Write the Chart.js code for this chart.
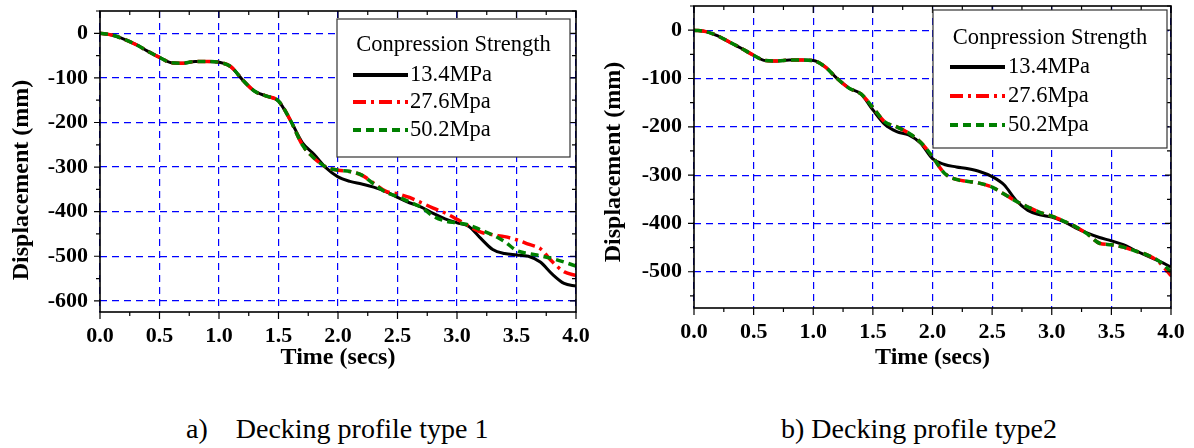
<!DOCTYPE html>
<html>
<head>
<meta charset="utf-8">
<script src="https://cdn.jsdelivr.net/npm/chart.js@4.4.1/dist/chart.umd.min.js"></script>
<style>
html, body { margin: 0; padding: 0; background: #fff; }
body { width: 1194px; height: 448px; position: relative; overflow: hidden; }
canvas { position: absolute; top: 0; }
#chartA { left: 0; }
#chartB { left: 597px; }
.caption { position: absolute; top: 415px; font: 28px/28px 'Liberation Serif', 'Times New Roman', serif; white-space: pre; color: #000; }
</style>
</head>
<body>
<canvas id="chartA" width="597" height="380"></canvas>
<canvas id="chartB" width="597" height="380"></canvas>
<div class="caption" style="left:186px">a)    Decking profile type 1</div>
<div class="caption" style="left:781px">b) Decking profile type2</div>
<script>
// ---- data ----
const timeSecs = [0.0,0.1,0.2,0.3,0.4,0.5,0.6,0.7,0.8,0.9,1.0,1.1,1.2,1.3,1.4,1.5,1.6,1.7,1.8,1.9,2.0,
  2.1,2.2,2.3,2.4,2.5,2.6,2.7,2.8,2.9,3.0,3.1,3.2,3.3,3.4,3.5,3.6,3.7,3.8,3.9,4.0];
const seriesLabels = ['13.4MPa', '27.6Mpa', '50.2Mpa'];
const legendTitle = 'Conpression Strength';
const yTitle = 'Displacement (mm)';

// profile type 1
const type1_134 = [0,-4,-13,-25,-40,-54,-66,-67,-63,-63,-65,-75,-105,-130,-141,-152,-195,-245,-272,-302,-322,
  -332,-338,-345,-355,-368,-380,-390,-404,-416,-425,-433,-460,-485,-494,-497,-500,-513,-540,-561,-567];
const type1_276 = [0,-4,-13,-25,-40,-54,-66,-67,-63,-63,-65,-75,-105,-130,-141,-152,-195,-250,-280,-300,-307,
  -310,-318,-336,-354,-360,-368,-380,-392,-403,-417,-432,-446,-452,-456,-463,-473,-483,-512,-535,-543];
const type1_502 = [0,-4,-13,-25,-40,-54,-66,-67,-63,-63,-65,-75,-105,-130,-141,-152,-195,-250,-280,-300,-307,
  -310,-318,-338,-356,-366,-378,-390,-410,-421,-425,-430,-441,-452,-467,-487,-494,-499,-505,-513,-522];

// profile type 2
const type2_134 = [0,-3,-12,-25,-38,-52,-63,-64,-62,-62,-63,-76,-100,-120,-132,-165,-195,-210,-217,-234,-266,
  -278,-283,-287,-293,-303,-320,-352,-373,-382,-387,-396,-409,-420,-429,-436,-444,-456,-467,-478,-490];
const type2_276 = [0,-3,-12,-25,-38,-52,-63,-64,-62,-62,-63,-76,-100,-120,-132,-160,-190,-200,-213,-232,-262,
  -296,-309,-313,-317,-325,-339,-354,-366,-377,-385,-395,-407,-422,-441,-444,-449,-457,-465,-480,-508];
const type2_502 = [0,-3,-12,-25,-38,-52,-63,-64,-62,-62,-63,-76,-100,-120,-132,-160,-190,-200,-213,-232,-262,
  -296,-309,-313,-317,-325,-339,-354,-366,-377,-385,-395,-407,-422,-441,-444,-449,-457,-465,-478,-500];

const xTicks = [0, 0.5, 1.0, 1.5, 2.0, 2.5, 3.0, 3.5, 4.0];
const yTicksA = [0, -100, -200, -300, -400, -500, -600];
const yTicksB = [0, -100, -200, -300, -400, -500];

Chart.defaults.font.family = "'Liberation Serif', 'Times New Roman', serif";
Chart.defaults.color = '#000';

const gridBlue = '#0000ff';
const lineStyles = [
  { color: '#000000', dash: [], width: 3, order: 3 },
  { color: '#ff0000', dash: [13, 5, 3, 5], width: 3.5, order: 2 },
  { color: '#008000', dash: [8, 5], width: 3.5, order: 1 },
];

// frame, mirrored ticks, y title and inset legend
const frameTicks = {
  id: 'frameTicks',
  afterDraw(chart, args, opts) {
    const { ctx, chartArea: a, scales: { x, y } } = chart;
    ctx.save();
    ctx.strokeStyle = '#000';
    ctx.lineWidth = 1.2;
    ctx.setLineDash([]);
    ctx.beginPath();
    for (let i = 0; i <= 16; i++) {
      const v = i * 0.25;
      const px = x.getPixelForValue(v);
      const len = i % 2 === 0 ? 7 : 4;
      ctx.moveTo(px, a.bottom); ctx.lineTo(px, a.bottom + len);
      ctx.moveTo(px, a.top); ctx.lineTo(px, a.top + len);
    }
    for (let v = Math.ceil(y.min / 50) * 50; v <= y.max; v += 50) {
      const py = y.getPixelForValue(v);
      const len = v % 100 === 0 ? 6 : 4;
      ctx.moveTo(a.left - len, py); ctx.lineTo(a.left, py);
      ctx.moveTo(a.right - len, py); ctx.lineTo(a.right, py);
    }
    ctx.stroke();
    ctx.lineWidth = 1.6;
    ctx.strokeRect(a.left, a.top, a.right - a.left, a.bottom - a.top);

    // y axis title, placed like the original (not always centred)
    ctx.save();
    ctx.translate(opts.titleX, opts.titleY);
    ctx.rotate(-Math.PI / 2);
    ctx.fillStyle = '#000';
    ctx.font = "bold 24px 'Liberation Serif', 'Times New Roman', serif";
    ctx.textAlign = 'center';
    ctx.textBaseline = 'middle';
    ctx.fillText(yTitle, 0, 0);
    ctx.restore();

    // legend box
    const bx = a.right + opts.dx, by = a.top + opts.dy;
    ctx.fillStyle = '#fff';
    ctx.fillRect(bx, by, opts.w, opts.h);
    ctx.strokeStyle = '#333';
    ctx.lineWidth = 1.2;
    ctx.strokeRect(bx, by, opts.w, opts.h);
    ctx.fillStyle = '#000';
    ctx.font = "22.5px 'Liberation Serif', 'Times New Roman', serif";
    ctx.textAlign = 'center';
    ctx.textBaseline = 'middle';
    ctx.fillText(legendTitle, bx + opts.w / 2, by + opts.titleDy);
    ctx.textAlign = 'left';
    chart.data.datasets.forEach((ds, i) => {
      const ry = by + opts.rows[i];
      ctx.strokeStyle = ds.borderColor;
      ctx.lineWidth = 4;
      ctx.setLineDash(ds.borderDash);
      ctx.beginPath();
      ctx.moveTo(bx + opts.sx0, ry);
      ctx.lineTo(bx + opts.sx1, ry);
      ctx.stroke();
      ctx.fillText(ds.label, bx + opts.tx, ry);
    });
    ctx.restore();
  }
};

function makeChart(canvasId, seriesList, yTicks, yMin, cfg) {
  const datasets = seriesList.map((vals, i) => ({
    label: seriesLabels[i],
    data: timeSecs.map((t, k) => ({ x: t, y: vals[k] })),
    borderColor: lineStyles[i].color,
    borderDash: lineStyles[i].dash,
    borderWidth: lineStyles[i].width,
    order: lineStyles[i].order,
    pointRadius: 0,
    cubicInterpolationMode: 'monotone',
    fill: false,
  }));
  const tickFont = { size: 22, weight: 'bold' };
  const titleFont = { size: 24, weight: 'bold', lineHeight: 1 };
  return new Chart(document.getElementById(canvasId), {
    type: 'line',
    data: { datasets },
    options: {
      responsive: false,
      animation: false,
      layout: { padding: { left: 0, top: cfg.top, right: cfg.right, bottom: 380 - cfg.bottom - cfg.xHeight } },
      plugins: {
        legend: { display: false },
        tooltip: { enabled: false },
        frameTicks: cfg.legend,
      },
      scales: {
        x: {
          type: 'linear', min: 0, max: 4,
          afterBuildTicks: s => { s.ticks = xTicks.map(v => ({ value: v })); },
          afterFit: s => { s.height = cfg.xHeight; s.paddingLeft = 0; s.paddingRight = 0; },
          grid: { color: gridBlue, lineWidth: 1.2, drawTicks: false },
          border: { display: false, dash: [7, 5] },
          ticks: { padding: 11, font: tickFont, maxRotation: 0, autoSkip: false, callback: v => Number(v).toFixed(1) },
          title: { display: true, text: 'Time (secs)', font: titleFont, padding: 0 },
        },
        y: {
          min: yMin, max: 50,
          afterBuildTicks: s => { s.ticks = yTicks.map(v => ({ value: v })); },
          afterFit: s => { s.width = cfg.yWidth; s.paddingTop = 0; s.paddingBottom = 0; },
          grid: { color: gridBlue, lineWidth: 1.2, drawTicks: false },
          border: { display: false, dash: [7, 5] },
          ticks: { padding: 12, font: tickFont, autoSkip: false, callback: v => String(v) },
          title: { display: false },
        },
      },
    },
    plugins: [frameTicks],
  });
}

makeChart('chartA', [type1_134, type1_276, type1_502], yTicksA, -625, {
  top: 11, right: 21, bottom: 312, xHeight: 57.5, yWidth: 100,
  legend: { titleX: 22, titleY: 180, dx: -239, dy: 8, w: 233, h: 138, titleDy: 26, rows: [56, 83, 111], sx0: 16, sx1: 71, tx: 73 },
});
makeChart('chartB', [type2_134, type2_276, type2_502], yTicksB, -575, {
  top: 6, right: 23, bottom: 308, xHeight: 61.5, yWidth: 97,
  legend: { titleX: 17, titleY: 162, dx: -238, dy: 4, w: 234, h: 138, titleDy: 28, rows: [57, 86, 115], sx0: 17, sx1: 72, tx: 75 },
});
</script>
</body>
</html>
